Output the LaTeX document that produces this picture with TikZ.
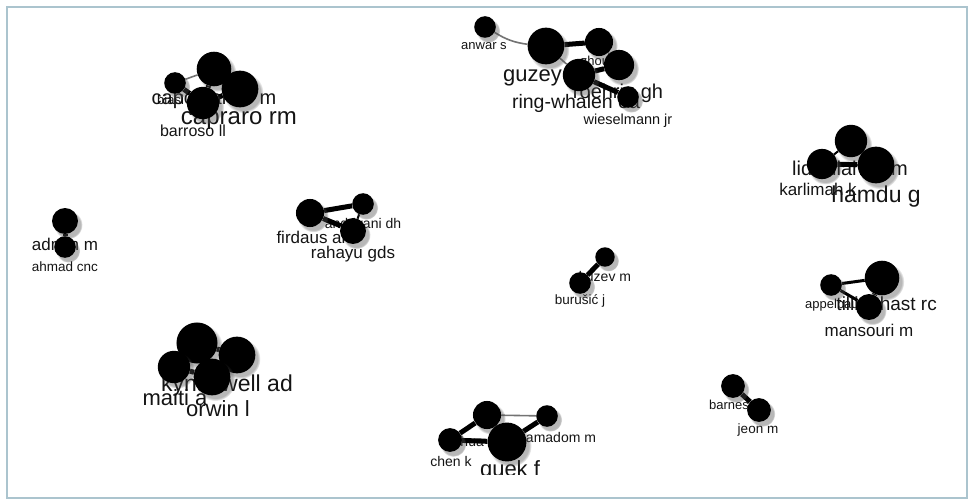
\documentclass[tikz,border=0pt]{standalone}
\usepackage{fontspec}
\setmainfont{Liberation Sans}
\usetikzlibrary{shadows}
\pgfdeclarelayer{back}
\pgfsetlayers{back,main}
\tikzset{
  nd/.style={circle, fill=black, draw=none, inner sep=0pt, minimum size=#1*1.08,
    circular drop shadow={shadow xshift=3pt, shadow yshift=-3.5pt, opacity=0.4, fill=black!70}},
  thk/.style={line width=5pt, black},
  thn/.style={line width=1.6pt, black!55},
  lbl/.style={text=black!92, inner sep=0pt, font=\fontsize{#1}{#1}\selectfont},
  frame/.style={draw=gray!70!cyan!60, line width=1.2pt}
}
\begin{document}
\begin{tikzpicture}[x=1pt,y=-1pt]
\useasboundingbox (0,0) rectangle (969,500);
% cluster 1
\node[nd=20] (a1) at (175,83) {};
\node[nd=32] (a2) at (214,69) {};
\node[nd=34] (a3) at (240,89) {};
\node[nd=30] (a4) at (203,103) {};
% cluster 2
\node[nd=20] (b1) at (485,27) {};
\node[nd=34] (b2) at (546,46) {};
\node[nd=26] (b3) at (599,42) {};
\node[nd=28] (b4) at (619,65) {};
\node[nd=30] (b5) at (579,75) {};
\node[nd=20] (b6) at (628,97) {};
% cluster 3
\node[nd=30] (c1) at (851,141) {};
\node[nd=28] (c2) at (822,164) {};
\node[nd=34] (c3) at (876,165) {};
% cluster 4
\node[nd=24] (d1) at (65,221) {};
\node[nd=20] (d2) at (65,247) {};
% cluster 5
\node[nd=26] (e1) at (310,213) {};
\node[nd=20] (e2) at (363,204) {};
\node[nd=24] (e3) at (353,231) {};
% cluster 6
\node[nd=18] (f1) at (605,257) {};
\node[nd=20] (f2) at (580,283) {};
% cluster 7
\node[nd=20] (g1) at (831,285) {};
\node[nd=32] (g2) at (882,278) {};
\node[nd=24] (g3) at (869,307) {};
% cluster 8
\node[nd=38] (h1) at (197,343) {};
\node[nd=34] (h2) at (237,355) {};
\node[nd=30] (h3) at (174,367) {};
\node[nd=34] (h4) at (212,377) {};
% cluster 9
\node[nd=26] (i1) at (487,415) {};
\node[nd=20] (i2) at (547,416) {};
\node[nd=22] (i3) at (450,440) {};
\node[nd=36] (i4) at (507,442) {};
% cluster 10
\node[nd=22] (j1) at (733,386) {};
\node[nd=22] (j2) at (759,410) {};

\begin{pgfonlayer}{back}
\draw[frame] (7,7) rectangle (967,498);
% labels
\node[lbl=13, anchor=west] (la1) at (157,100) {biasi c};
\node[lbl=20] (la2) at (214,99) {capobianco m};
\node[lbl=24] (la3) at (239,121) {capraro rm};
\node[lbl=16] (la4) at (193,131) {barroso ll};
\node[lbl=13] (lb1) at (484,46) {anwar s};
\node[lbl=22, anchor=west] (lb2) at (503,78) {guzey m};
\node[lbl=13] (lb3) at (600,62) {zhou y};
\node[lbl=20] (lb4) at (618,93) {roehrig gh};
\node[lbl=19.5] (lb5) at (576,103) {ring-whalen ea};
\node[lbl=14.5] (lb6) at (628,121) {wieselmann jr};
\node[lbl=20] (lc1) at (850,168) {lidinillah dam};
\node[lbl=17] (lc2) at (818,189) {karlimah k};
\node[lbl=23] (lc3) at (876,197) {hamdu g};
\node[lbl=17] (ld1) at (65,244) {adnan m};
\node[lbl=13.5] (ld2) at (65,267) {ahmad cnc};
\node[lbl=14] (le1) at (363,225) {andriyani dh};
\node[lbl=17] (le2) at (311,237) {firdaus al};
\node[lbl=17] (le3) at (353,254) {rahayu gds};
\node[lbl=14] (lf1) at (605,276) {kuzev m};
\node[lbl=13.5] (lf2) at (580,301) {burušić j};
\node[lbl=13, anchor=west] (lg1) at (805,305) {appelbaum};
\node[lbl=19, anchor=east] (lg2) at (937,306) {tillinghast rc};
\node[lbl=17] (lg3) at (869,330) {mansouri m};
\node[lbl=23] (lh1) at (227,386) {kynaswell ad};
\node[lbl=22] (lh2) at (175,398) {maiti a};
\node[lbl=22] (lh3) at (218,409) {orwin l};
\node[lbl=14] (li1) at (478,443) {chua sp};
\node[lbl=14] (li2) at (451,461) {chen k};
\node[lbl=14] (li3) at (561,437) {amadom m};
\begin{scope}
\clip (0,0) rectangle (969,474);
\node[lbl=22] (li4) at (510,471) {quek f};
\end{scope}
\node[lbl=13, anchor=west] (lj1) at (709,405) {barnes};
\node[lbl=13.5] (lj2) at (758,430) {jeon m};
% edges
\draw[thn] (a1) -- (a2);
\draw[thk] (a2) -- (a4);
\draw[thk] (a2) -- (a3);
\draw[thk] (a3) -- (a4);
\draw[thk] (a1) -- (a4);
\draw[thn] (b1) to[bend right=12] (b2);
\draw[thk] (b2) -- (b3);
\draw[thn] (b2) -- (b5);
\draw[thk] (b5) -- (b6);
\draw[thn] (b3) -- (b4);
\draw[thk] (b4) -- (b5);
\draw[line width=2pt] (c1) -- (c2);
\draw[thk] (c2) -- (c3);
\draw[thk] (c1) -- (c3);
\draw[thk] (d1) -- (d2);
\draw[thk] (e1) -- (e2);
\draw[thk] (e1) -- (e3);
\draw[line width=2pt] (e2) -- (e3);
\draw[thk] (f1) -- (f2);
\draw[line width=3pt] (g1) -- (g2);
\draw[line width=3pt] (g1) -- (g3);
\draw[thk] (g2) -- (g3);
\draw[thk] (h1) -- (h2);
\draw[thk] (h1) -- (h3);
\draw[thk] (h3) -- (h4);
\draw[thk] (h2) -- (h4);
\draw[thk] (h1) -- (h4);
\draw[thn] (i1) -- (i2);
\draw[thk] (i1) -- (i3);
\draw[thk] (i1) -- (i4);
\draw[thk] (i3) -- (i4);
\draw[thk] (i4) -- (i2);
\draw[thk] (j1) -- (j2);
\end{pgfonlayer}
\end{tikzpicture}
\end{document}
